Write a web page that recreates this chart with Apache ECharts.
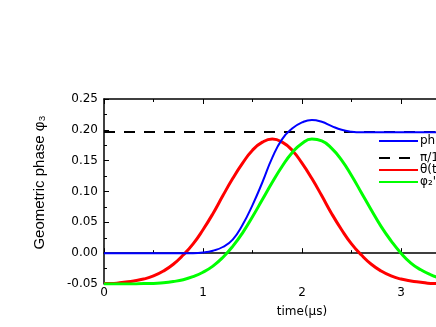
<!DOCTYPE html>
<html>
<head>
<meta charset="utf-8">
<script src="https://cdn.jsdelivr.net/npm/echarts@6/dist/echarts.min.js"></script>
<style>
  html, body { margin: 0; padding: 0; background: #fff; }
  #container { width: 436px; height: 327px; }
</style>
</head>
<body>
<div id="container"></div>
<script>
var times = [0, 0.1, 0.2, 0.3, 0.4, 0.5, 0.6, 0.7, 0.8, 0.9,
  1.0, 1.1, 1.2, 1.3, 1.4, 1.5, 1.6, 1.7, 1.8, 1.9,
  2.0, 2.1, 2.2, 2.3, 2.4, 2.5, 2.6, 2.7, 2.8, 2.9,
  3.0, 3.1, 3.2, 3.3, 3.4, 3.5, 3.6, 3.7, 3.8, 3.9, 4.0];

var phase = [0, 0, 0, 0, 0, 0, 0, 0, 0, 0,
  0.001, 0.004, 0.010, 0.022, 0.046, 0.078, 0.115, 0.155, 0.185, 0.202,
  0.212, 0.216, 0.213, 0.206, 0.200, 0.197, 0.196, 0.196, 0.196, 0.196,
  0.196, 0.196, 0.196, 0.196, 0.196, 0.196, 0.196, 0.196, 0.196, 0.196, 0.196];

var theta = [-0.049, -0.049, -0.047, -0.045, -0.042, -0.037, -0.029, -0.018, -0.003, 0.015,
  0.038, 0.064, 0.093, 0.121, 0.146, 0.167, 0.180, 0.185, 0.180, 0.167,
  0.146, 0.121, 0.093, 0.064, 0.038, 0.015, -0.003, -0.018, -0.029, -0.037,
  -0.042, -0.045, -0.047, -0.049, -0.049, -0.050, -0.050, -0.050, -0.050, -0.050, -0.050];

var phi2 = [-0.050, -0.050, -0.050, -0.050, -0.049, -0.049, -0.048, -0.046, -0.043, -0.038,
  -0.031, -0.021, -0.007, 0.011, 0.033, 0.059, 0.087, 0.115, 0.141, 0.163,
  0.178, 0.185, 0.182, 0.170, 0.151, 0.126, 0.098, 0.070, 0.043, 0.020,
  0.000, -0.016, -0.027, -0.035, -0.041, -0.045, -0.047, -0.049, -0.050, -0.050, -0.050];

var piOver16 = 0.19635;
var names = ['phase \u03c6\u2083', '\u03c0/16', '\u03b8(t)', '\u03c6\u2082\'(t)'];

function pairs(vals) {
  return times.map(function (t, i) { return [t, vals[i]]; });
}

var dom = document.getElementById('container');
var myChart = echarts.init(dom, null, { renderer: 'canvas' });

var font = 'DejaVu Sans';
var legendBase = {
  orient: 'vertical',
  left: 378,
  itemWidth: 39,
  itemHeight: 10,
  itemGap: 0,
  padding: 0,
  itemStyle: { opacity: 0 },
  textStyle: { fontFamily: font, fontSize: 12, lineHeight: 12, color: '#000', padding: [0, 0, 0, -3] }
};

var option = {
  animation: false,
  backgroundColor: '#fff',
  // plot box runs past the right edge, like the reference
  grid: { left: 104, top: 99, width: 396, height: 185, outerBoundsMode: 'none', containLabel: false },
  legend: [
    Object.assign({}, legendBase, { top: 135, data: names.slice(0, 1) }),
    Object.assign({}, legendBase, { top: 152, data: names.slice(1) })
  ],
  xAxis: [{
    type: 'value',
    min: 0,
    max: 4,
    interval: 1,
    name: 'time(\u03bcs)',
    nameLocation: 'middle',
    nameGap: 22,
    nameTextStyle: { fontFamily: font, fontSize: 12, color: '#000' },
    axisLine: { lineStyle: { color: '#000', width: 1.5 } },
    axisTick: { inside: true, length: 5, lineStyle: { color: '#000' } },
    minorTick: { show: true, splitNumber: 2, length: 3, lineStyle: { color: '#000' } },
    axisLabel: { fontFamily: font, fontSize: 12, color: '#000', margin: 3 },
    splitLine: { show: false }
  }, {
    type: 'value',
    position: 'top',
    min: 0,
    max: 4,
    interval: 1,
    axisLine: { lineStyle: { color: '#000', width: 1.5 } },
    axisTick: { inside: true, length: 5, lineStyle: { color: '#000' } },
    minorTick: { show: true, splitNumber: 2, length: 3, lineStyle: { color: '#000' } },
    axisLabel: { show: false },
    splitLine: { show: false }
  }],
  yAxis: {
    type: 'value',
    min: -0.05,
    max: 0.25,
    interval: 0.05,
    name: 'Geometric phase \u03c6\u2083',
    nameLocation: 'middle',
    nameRotate: 90,
    nameGap: 57,
    nameTextStyle: { fontFamily: 'Liberation Sans', fontSize: 15, color: '#000', padding: [0, 0, 0, 18] },
    axisLine: { lineStyle: { color: '#000', width: 1.5 } },
    axisTick: { inside: true, length: 5, lineStyle: { color: '#000' } },
    minorTick: { show: true, splitNumber: 2, length: 3, lineStyle: { color: '#000' } },
    axisLabel: {
      fontFamily: font, fontSize: 12, color: '#000', margin: 6,
      formatter: function (v) { return v.toFixed(2); }
    },
    splitLine: { show: false }
  },
  series: [{
    name: names[0],
    type: 'line',
    symbol: 'none',
    smooth: true,
    color: '#0000ff',
    lineStyle: { width: 2, color: '#0000ff' },
    data: pairs(phase),
    z: 4
  }, {
    name: names[1],
    type: 'line',
    symbol: 'none',
    color: '#000',
    lineStyle: { width: 2, color: '#000', type: [11, 9] },
    data: [[0, piOver16], [4, piOver16]],
    z: 3
  }, {
    name: names[2],
    type: 'line',
    symbol: 'none',
    smooth: true,
    color: '#ff0000',
    lineStyle: { width: 3, color: '#ff0000' },
    data: pairs(theta),
    z: 2
  }, {
    name: names[3],
    type: 'line',
    symbol: 'none',
    smooth: true,
    color: '#00ff00',
    lineStyle: { width: 3, color: '#00ff00' },
    data: pairs(phi2),
    z: 2
  }]
};

myChart.setOption(option);
window.addEventListener('resize', myChart.resize);
</script>
</body>
</html>
